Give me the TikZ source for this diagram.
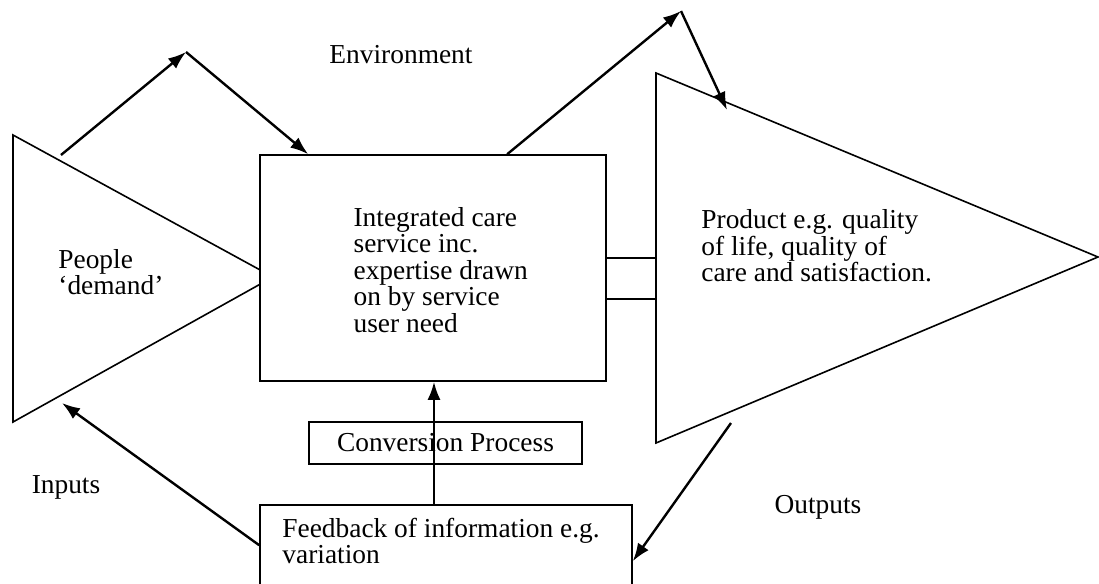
\documentclass[tikz,border=0pt]{standalone}
\usepackage{fontspec}
\setmainfont{Liberation Serif}
\usetikzlibrary{arrows.meta, positioning}

\begin{document}
\begin{tikzpicture}[
    x=0.5pt, y=-0.5pt,
    font=\fontsize{13.7}{13.2}\selectfont,
    block/.style={rectangle, draw, line width=0.8pt, fill=white, inner sep=0pt},
    txt/.style={align=left, inner sep=0pt},
    funnel/.style={draw, line width=0.8pt, line join=miter},
    line/.style={draw, line width=1.2pt, -{Latex[length=9pt,width=6.5pt]}}
  ]
  \useasboundingbox (0,0) rectangle (1099,584);
  \clip (0,0) rectangle (1099,584);

  % Input funnel
  \coordinate (intop) at (13,135);
  \coordinate (inbot) at (13,422);
  \coordinate (inapex) at (273,277);
  \draw[funnel] (intop) -- (inapex) -- (inbot) -- cycle;

  % Nodes
  \node[block, minimum width=173pt, minimum height=113pt] (care) at (433,268) {};
  \node[txt, anchor=west] (caretext) at ([xshift=47pt,yshift=-1pt]care.west)
    {Integrated care\\service inc.\\expertise drawn\\on by service\\user need};
  \node[block, minimum width=25pt, minimum height=20.5pt] (link) at (631,278.5) {};

  % Output funnel
  \coordinate (outtop) at (656,73);
  \coordinate (outbot) at (656,443);
  \coordinate (outapex) at (1098,257);
  \draw[funnel] (outtop) -- (outapex) -- (outbot) -- cycle;

  \node[txt, anchor=west] (people) at (58,272) {People\\‘demand’};
  \node[txt, anchor=west] (product) at (701,246)
    {Product e.g. quality\\of life, quality of\\care and satisfaction.};
  \node[txt] (environment) at (401,55) {Environment};
  \node[txt] (inputs) at (66,487) {Inputs};
  \node[txt] (outputs) at (818,507) {Outputs};

  \node[block, fill=none, minimum width=136.5pt, minimum height=21pt] (conversion) at (445.5,443) {Conversion Process};
  \node[block, minimum width=186pt, minimum height=60pt] (feed) at (446,565) {};
  \node[txt, anchor=west] (feedtext) at (282,541)
    {Feedback of information e.g.\\variation};

  % Connections
  \coordinate (inleave) at (61,155);
  \coordinate (inpeak) at (186,52);
  \coordinate (outpeak) at (681,11);
  \coordinate (outarrive) at (727,110);
  \coordinate (outleave) at (731,423);
  \coordinate (inback) at (62,403);

  \draw[line] (inleave) -- (inpeak);
  \draw[line] (inpeak) -- ([xshift=24.5pt]care.north west);
  \draw[line] ([xshift=124pt]care.north west) -- (outpeak);
  \draw[line] (outpeak) -- (outarrive);
  \draw[line] ([xshift=-6pt]feed.north) -- ([xshift=-6pt]feed.north |- care.south);
  \draw[line] ([yshift=-20.5pt]feed.north west) -- (inback);
  \draw[line] (outleave) -- ([yshift=-28.5pt]feed.north east);
\end{tikzpicture}
\end{document}
